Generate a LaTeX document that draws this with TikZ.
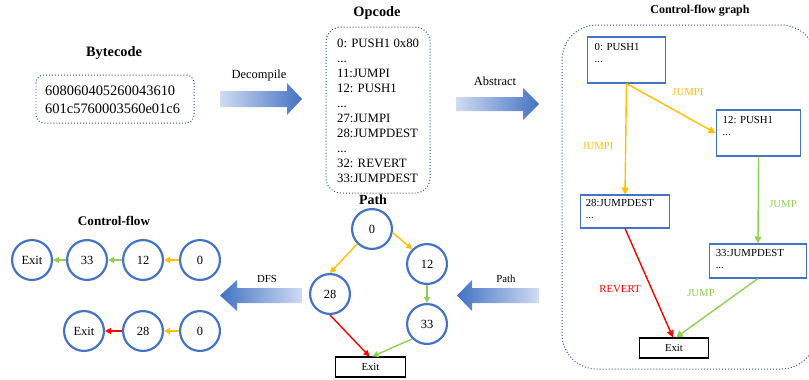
\documentclass[tikz,border=0pt]{standalone}
\usepackage{fontspec}
\setmainfont{Liberation Serif}
\usetikzlibrary{arrows.meta}
\definecolor{cblue}{RGB}{68,114,196}
\definecolor{dblue}{RGB}{47,85,151}
\definecolor{lblue}{RGB}{208,220,242}
\definecolor{corange}{RGB}{255,192,0}
\definecolor{cgreen}{RGB}{146,208,80}
\definecolor{cred}{RGB}{255,0,0}
\tikzset{
  circ/.style={circle,draw=cblue,line width=2.2,minimum size=40,inner sep=0,font=\fontsize{12.5}{14}\selectfont},
  cfgbox/.style={rectangle,draw=cblue,line width=1.2,inner sep=0},
  exitbox/.style={rectangle,draw=black,line width=1.2,inner sep=0,font=\fontsize{10.8}{12}\selectfont},
  boxtext/.style={anchor=north west,inner sep=0,align=left,font=\fontsize{10.8}{12}\selectfont},
  edge/.style={line width=1.4,-{Triangle[length=7,width=7]}},
  sedge/.style={line width=1.4,-{Triangle[length=6,width=6]}},
  dotbox/.style={draw=dblue,dotted,line width=1},
  ttl/.style={font=\bfseries\fontsize{14.4}{16}\selectfont,inner sep=0},
  lbl/.style={font=\fontsize{12.5}{14}\selectfont,inner sep=0},
  elbl/.style={font=\fontsize{10.8}{12}\selectfont,inner sep=0},
}
\begin{document}
\begin{tikzpicture}[x=1bp,y=-1bp]
\useasboundingbox (0,0) rectangle (809,379);

% ---------- Bytecode ----------
\node[ttl] (tbyte) at (114,53) {Bytecode};
\draw[dotbox,rounded corners=8] (36,75) rectangle (194,123);
\node[anchor=west,inner sep=0,align=left,font=\fontsize{14.5}{18}\selectfont] (byte) at (45,100) {608060405260043610\\601c5760003560e01c6};

% ---------- Decompile arrow ----------
\shade[left color=lblue,right color=cblue] (220,91) -- (287,91) -- (287,83) -- (302,99) -- (287,115) -- (287,107) -- (220,107) -- cycle;
\node[lbl] (ldec) at (259,76) {Decompile};

% ---------- Opcode ----------
\node[ttl] (topc) at (377,13) {Opcode};
\draw[dotbox,rounded corners=15] (326,27) rectangle (430,193);
\node[anchor=west,inner sep=0,align=left,font=\fontsize{12.8}{15}\selectfont] (opc) at (337,111) {0: PUSH1 0x80\\...\\11:JUMPI\\12: PUSH1\\...\\27:JUMPI\\28:JUMPDEST\\...\\32: REVERT\\33:JUMPDEST};

% ---------- Abstract arrow ----------
\shade[left color=lblue,right color=cblue] (456,97) -- (523,97) -- (523,88) -- (539,104) -- (523,120) -- (523,111) -- (456,111) -- cycle;
\node[lbl] (labs) at (495,81) {Abstract};

% ---------- Control-flow graph ----------
\node[font=\bfseries\fontsize{12}{14}\selectfont,inner sep=0] (tcfg) at (700,11) {Control-flow graph};
\begin{scope}
\clip (0,0) rectangle (809,379);
\draw[dotbox,rounded corners=35] (562,25) rectangle (816,369);
\end{scope}

\node[cfgbox,minimum width=79,minimum height=46] (b0) at (626.5,60) {};
\node[boxtext] (b0t) at ([xshift=8,yshift=-7]b0.north west) {0: PUSH1\\...};
\node[cfgbox,minimum width=85,minimum height=46] (b12) at (758.5,133) {};
\node[boxtext] (b12t) at ([xshift=7,yshift=-7]b12.north west) {12: PUSH1\\...};
\node[cfgbox,minimum width=90,minimum height=33] (b28) at (625,211.5) {};
\node[boxtext] (b28t) at ([xshift=6,yshift=-5]b28.north west) {28:JUMPDEST\\...};
\node[cfgbox,minimum width=98,minimum height=34] (b33) at (758,261) {};
\node[boxtext] (b33t) at ([xshift=7,yshift=-6]b33.north west) {33:JUMPDEST\\...};
\node[exitbox,minimum width=70,minimum height=20] (cex) at (674,348) {Exit};

\draw[edge,corange] (b0.south) -- (b28.north);
\draw[edge,corange] (b0.south) -- (b12.west);
\draw[edge,cgreen] (b12.south) -- (b33.north);
\draw[edge,cred] (b28.south) -- ([xshift=-1]cex.north);
\draw[edge,cgreen] (b33.south) -- ([xshift=2]cex.north);

\node[elbl,text=corange] (lj1) at (598,146) {JUMPI};
\node[elbl,text=corange] (lj2) at (688,92) {JUMPI};
\node[elbl,text=cgreen] (lj3) at (783,204) {JUMP};
\node[elbl,text=cgreen] (lj4) at (701,293) {JUMP};
\node[elbl,text=cred] (lrev) at (620,289) {REVERT};

% ---------- Path arrow ----------
\shade[left color=cblue,right color=lblue] (539,288) -- (472,288) -- (472,280) -- (457,295.5) -- (472,311) -- (472,303) -- (539,303) -- cycle;
\node[elbl] (lpath) at (506,279) {Path};

% ---------- Path graph ----------
\node[font=\bfseries\fontsize{14}{16}\selectfont,inner sep=0] (tpath) at (373,200) {Path};
\node[circ] (p0) at (372,229) {0};
\node[circ] (p12) at (427,264) {12};
\node[circ] (p28) at (330,294) {28};
\node[circ] (p33) at (427,324) {33};
\node[exitbox,minimum width=71,minimum height=20] (pex) at (370.5,367) {Exit};
\draw[sedge,corange] (p0.225) -- (p28.north);
\draw[sedge,corange] (p0.-10) -- (p12.135);
\draw[sedge,cgreen] (p12.south) -- (p33.north);
\draw[sedge,cred] (p28.south) -- ([xshift=-1]pex.north);
\draw[sedge,cgreen] (p33.225) -- ([xshift=2]pex.north);

% ---------- DFS arrow ----------
\shade[left color=cblue,right color=lblue] (302,288) -- (237,288) -- (237,280) -- (220,295.5) -- (237,311) -- (237,303) -- (302,303) -- cycle;
\node[elbl] (ldfs) at (267,279) {DFS};

% ---------- Control-flow ----------
\node[font=\bfseries\fontsize{13.2}{15}\selectfont,inner sep=0] (tcf) at (114,221) {Control-flow};
\node[circ] (r1e) at (32,260) {Exit};
\node[circ] (r133) at (87,260) {33};
\node[circ] (r112) at (143,260) {12};
\node[circ] (r10) at (200,260) {0};
\node[circ] (r2e) at (84,331) {Exit};
\node[circ] (r228) at (143,331) {28};
\node[circ] (r20) at (200,331) {0};
\draw[sedge,corange] (r10.west) -- (r112.east);
\draw[sedge,cgreen] (r112.west) -- (r133.east);
\draw[sedge,cgreen] (r133.west) -- (r1e.east);
\draw[sedge,corange] (r20.west) -- (r228.east);
\draw[sedge,cred] (r228.west) -- (r2e.east);
\end{tikzpicture}
\end{document}
